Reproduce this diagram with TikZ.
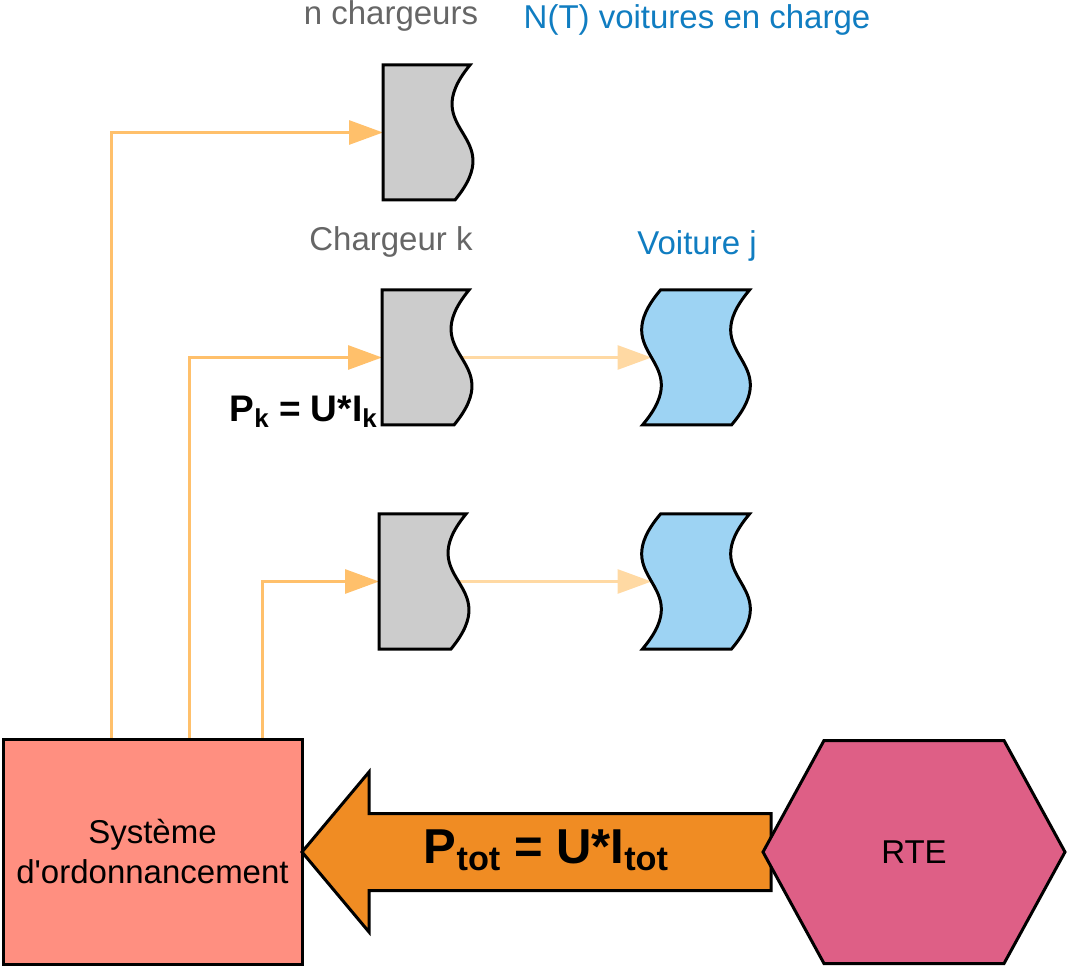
\documentclass[tikz,border=0pt]{standalone}
\usepackage{fontspec}
\setmainfont{Liberation Sans}
\usetikzlibrary{positioning, arrows.meta, backgrounds}

\definecolor{grisfond}{HTML}{CCCCCC}
\definecolor{gristexte}{HTML}{666666}
\definecolor{bleufond}{HTML}{9DD3F3}
\definecolor{bleutexte}{HTML}{107DC1}
\definecolor{orangetrait}{HTML}{FFC06B}
\definecolor{orangeclair}{HTML}{FFD9A3}
\definecolor{rougefond}{HTML}{FF8F80}
\definecolor{orangefleche}{HTML}{F08C23}
\definecolor{rosefond}{HTML}{DE5F86}

\tikzset{
x=1pt, y=1pt, % one unit = one pixel of the drawing
bord/.style={draw=black, line width=3pt, line join=miter}, % black outline of every shape
support/.style={inner sep=0pt, outer sep=0pt, minimum width=79.5pt, minimum height=135pt}, % invisible box, the outline is drawn by a macro
voiturebox/.style={support, minimum width=89pt},
commande/.style={draw=orangetrait, line width=3pt, -{Triangle[length=34pt,width=24pt]}},
charge/.style={draw=orangeclair, line width=3pt, -{Triangle[length=34pt,width=24pt]}},
texte/.style={inner sep=0pt, font=\fontsize{33}{40}\selectfont},
formule/.style={inner sep=0pt, font=\bfseries\fontsize{37}{44}\selectfont},
}

% small lowered index, as in P_k
\newcommand{\indice}[1]{\raisebox{-0.15em}{\scalebox{0.7}{#1}}}

% charger: straight on the left, wavy on the right
\newcommand{\formechargeur}[1]{%
  \draw[bord, fill=grisfond] (#1.north west) -- ([xshift=7.5pt]#1.north east)
    .. controls ([xshift=-48pt]#1.east) and ([xshift=48pt]#1.east) .. ([xshift=-7.5pt]#1.south east)
    -- (#1.south west) -- cycle;}
% car: wavy on both sides
\newcommand{\formevoiture}[1]{%
  \draw[bord, fill=bleufond] ([xshift=9pt]#1.north west) -- ([xshift=9pt]#1.north east)
    .. controls ([xshift=-48pt]#1.east) and ([xshift=48pt]#1.east) .. ([xshift=-9pt]#1.south east)
    -- ([xshift=-9pt]#1.south west)
    .. controls ([xshift=48pt]#1.west) and ([xshift=-48pt]#1.west) .. ([xshift=9pt]#1.north west) -- cycle;}

\begin{document}
\begin{tikzpicture}
    \useasboundingbox (0,0) rectangle (1067,967);

    \node[support] (c1) at (422.75,834.5) {};
    \node[support, below=90pt of c1, xshift=-1pt] (c2) {};
    \node[support, below=89pt of c2, xshift=-3pt] (c3) {};
    \node[voiturebox, right=190pt of c2] (v1) {};
    \node[voiturebox, right=193pt of c3] (v2) {};

    \node[texte, text=gristexte, anchor=base] (nchargeurs) at (391,942) {n chargeurs};
    \node[texte, text=bleutexte, anchor=base] (nvoitures) at (697,938) {N(T) voitures en charge};
    \node[texte, text=gristexte, anchor=base] (chargeurk) at (391,716) {Chargeur k};
    \node[texte, text=bleutexte, anchor=base] (voiturej) at (697,712) {Voiture j};
    \node[formule, anchor=base east] (pk) at (377,545) {P\indice{k} = U*I\indice{k}};

    \node[bord, fill=rougefond, minimum width=299pt, minimum height=225pt, inner sep=0pt, outer sep=0pt,
          texte, align=center] (sys) at (152.5,115) {Système\\d\textquotesingle ordonnancement};
    \coordinate (rte) at (914,115);

    \begin{scope}[on background layer]
    \draw[commande] ([xshift=108pt]sys.north west) |- (c1.west);
    \draw[commande] ([xshift=186pt]sys.north west) |- (c2.west);
    \draw[commande] ([xshift=259pt]sys.north west) |- (c3.west);
    \draw[charge] (c2.east) -- (v1.west);
    \draw[charge] (c3.east) -- (v2.west);
    \end{scope}

    \formechargeur{c1}
    \formechargeur{c2}
    \formechargeur{c3}
    \formevoiture{v1}
    \formevoiture{v2}

    % big arrow from RTE to the scheduler
    \draw[bord, fill=orangefleche] (sys.east) -- ++(67,80) -- ++(0,-41.5)
        -- ([shift={(-143,38.5)}]rte) -- ([shift={(-143,-38.5)}]rte)
        -- ([shift={(67,-38.5)}]sys.east) -- ++(0,-41.5) -- cycle;
    \node[inner sep=0pt, font=\bfseries\fontsize{49}{59}\selectfont, anchor=base] (ptot) at (546,104)
        {P\indice{tot} = U*I\indice{tot}};

    \draw[bord, fill=rosefond] ([xshift=-151pt]rte) -- ++(61,111.5) -- ++(180,0) -- ++(61,-111.5)
        -- ++(-61,-111.5) -- ++(-180,0) -- cycle;
    \node[texte] (rtetexte) at (rte) {RTE};
 \end{tikzpicture}
\end{document}
